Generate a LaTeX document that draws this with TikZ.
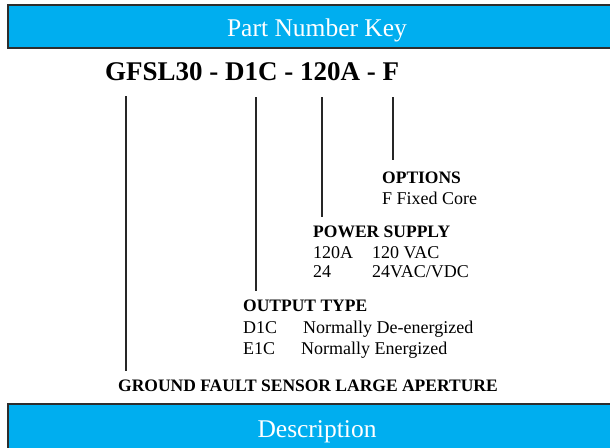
\documentclass[tikz,border=0pt]{standalone}
\usepackage{fontspec}
\setmainfont{Liberation Serif}
\usetikzlibrary{positioning,calc}
\definecolor{barblue}{RGB}{0,174,239}
\definecolor{barline}{RGB}{45,45,45}

\begin{document}
\begin{tikzpicture}[x=1pt, y=-1pt,
  bar/.style={draw=barline, line width=2pt, fill=barblue},
  bartxt/.style={text=white, font=\fontsize{25.5}{29}\selectfont, inner sep=0pt, anchor=base},
  code/.style={font=\bfseries\fontsize{27}{31}\selectfont, inner sep=0pt, anchor=base west},
  head/.style={font=\bfseries\fontsize{17.5}{20}\selectfont, inner sep=0pt, anchor=base west},
  txt/.style={font=\fontsize{18}{21}\selectfont, inner sep=0pt, anchor=base west},
  lead/.style={line width=2pt, black!85},
]
\useasboundingbox (0,0) rectangle (610,447);
\clip (0,0) rectangle (610,447);

% header and footer bars
\draw[bar] (8,5) rectangle (620,48);
\node[bartxt] (key) at (317,36) {Part Number Key};
\draw[bar] (8,404) rectangle (620,470);
\node[bartxt] (desc) at (317,437) {Description};

% the part number
\node[code] (pn) at (105,80) {GFSL30 - D1C - 120A - F};

% field descriptions
\node[head] (opt) at (382,183) {OPTIONS};
\node[txt] (opt1) at (382,204) {F Fixed Core};

\node[head] (pwr) at (313,237) {POWER SUPPLY};
\node[txt] (pwr1) at (313,258) {120A};
\node[txt] (pwr1d) at (372,258) {120 VAC};
\node[txt] (pwr2) at (313,277) {24};
\node[txt] (pwr2d) at (372,277) {24VAC/VDC};

\node[head] (out) at (243,311) {OUTPUT TYPE};
\node[txt] (out1) at (243,333) {D1C};
\node[txt] (out1d) at (303,333) {Normally De-energized};
\node[txt] (out2) at (243,354) {E1C};
\node[txt] (out2d) at (301,354) {Normally Energized};

\node[head] (grd) at (118,391) {GROUND FAULT SENSOR LARGE APERTURE};

% leader lines from the part number down to each field
\coordinate (t1) at (126,96);
\coordinate (t2) at (256,97);
\coordinate (t3) at (322,97);
\coordinate (t4) at (393,97);
\draw[lead] (t1) -- ([yshift=8pt]t1 |- grd.north);
\draw[lead] (t2) -- ([yshift=8pt]t2 |- out.north);
\draw[lead] (t3) -- ([yshift=8pt]t3 |- pwr.north);
\draw[lead] (t4) -- ([yshift=11pt]t4 |- opt.north);
\end{tikzpicture}
\end{document}
